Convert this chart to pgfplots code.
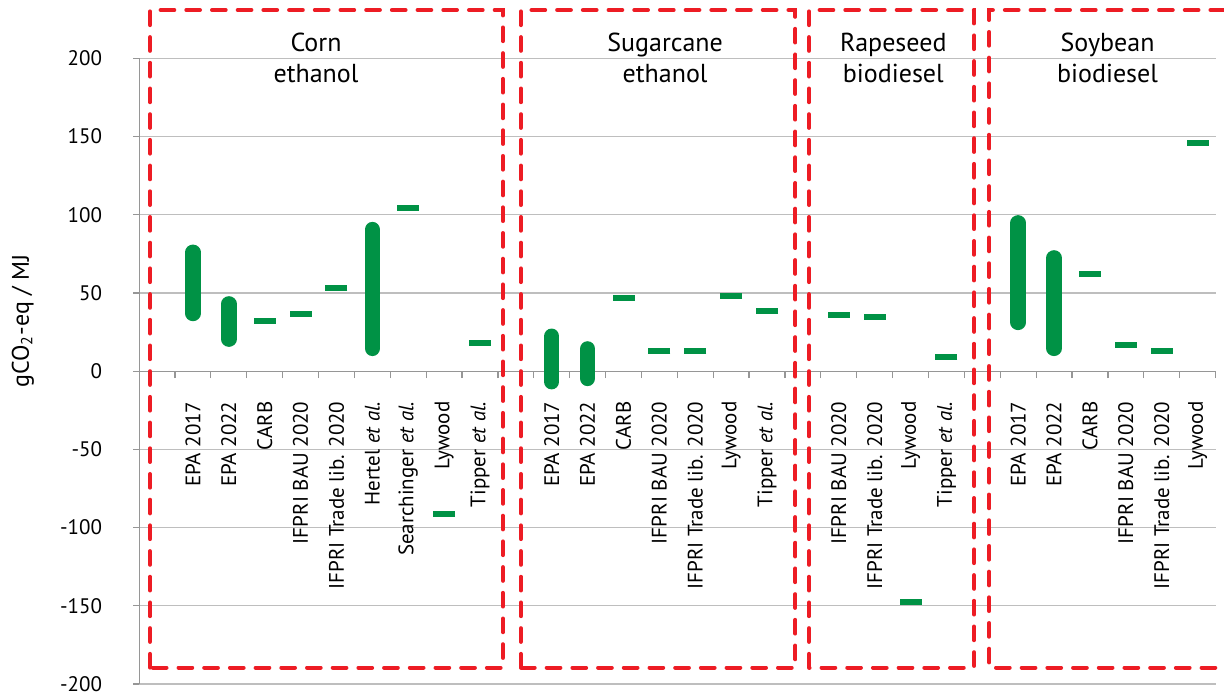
\documentclass[border=0pt]{standalone}
\usepackage{pgfplots}
\pgfplotsset{compat=1.18}
\usepackage{fontspec}
\setmainfont{PT Sans}

\definecolor{bargreen}{RGB}{0,146,69}
\definecolor{boxred}{RGB}{237,28,36}
\definecolor{gridgray}{RGB}{190,190,190}
\definecolor{axisgray}{RGB}{150,150,150}

\tikzset{feedbox/.style={draw=boxred, line width=2pt, line cap=round,
    dash pattern=on 6.85pt off 6pt}}

\begin{document}
\begin{tikzpicture}
\begin{axis}[
  scale only axis, width=538.25pt, height=312.85pt,
  xmin=-0.5, xmax=29.5, ymin=-200, ymax=200,
  axis x line*=middle, axis y line*=left,
  hide obscured x ticks=false, hide obscured y ticks=false,
  axis line style={draw=axisgray, line width=0.6pt},
  ytick={-200,-150,...,200},
  ymajorgrids, grid style={draw=gridgray, line width=0.6pt},
  tick align=outside,
  major tick length=3pt,
  ytick style={draw=axisgray, line width=0.6pt},
  yticklabel style={font=\fontsize{10.5}{12}\selectfont, xshift=-12pt},
  /pgf/number format/assume math mode=true,
  xtick={1,...,9,11,12,...,17,19,20,21,22,24,25,...,29},
  xticklabels={EPA 2017, EPA 2022, CARB, IFPRI BAU 2020, IFPRI Trade lib. 2020,
    {Hertel \textit{et al.}}, {Searchinger \textit{et al.}}, Lywood, {Tipper \textit{et al.}},
    EPA 2017, EPA 2022, CARB, IFPRI BAU 2020, IFPRI Trade lib. 2020, Lywood, {Tipper \textit{et al.}},
    IFPRI BAU 2020, IFPRI Trade lib. 2020, Lywood, {Tipper \textit{et al.}},
    EPA 2017, EPA 2022, CARB, IFPRI BAU 2020, IFPRI Trade lib. 2020, Lywood},
  major x tick style={draw=none},
  minor xtick={0.5,1.5,...,29.5},
  minor x tick style={draw=axisgray, line width=0.6pt},
  minor tick length=3.5pt,
  xticklabel style={rotate=90, anchor=east, inner sep=0pt, font=\fontsize{10.5}{12}\selectfont},
  xticklabel shift=12pt,
  clip=false,
  ylabel={gCO\textsubscript{2}-eq / MJ},
  ylabel style={at={(axis description cs:-0.108,0.58)}, anchor=center,
    font=\fontsize{12}{14}\selectfont},
]
% ranges
\addplot[bargreen, line width=7.75pt, line cap=round, unbounded coords=jump] coordinates {
  (1,36.9) (1,76.0) (1,nan)
  (2,20.5) (2,43.0) (2,nan)
  (6,14.6) (6,90.5) (6,nan)
  (11,-6.7) (11,22.3) (11,nan)
  (12,-4.6) (12,14.2) (12,nan)
  (24,31.2) (24,94.8) (24,nan)
  (25,14.6) (25,72.4)
};
% single values
\addplot[only marks, mark=-, mark size=5.5pt,
  mark options={draw=bargreen, line width=3pt}] coordinates {
  (3,32.1) (4,36.3) (5,52.9) (7,104.1) (8,-91.3) (9,18.0)
  (13,46.5) (14,12.6) (15,13.1) (16,48.1) (17,38.2)
  (19,35.8) (20,34.7) (21,-147.6) (22,9.0)
  (26,61.9) (27,16.8) (28,13.1) (29,146.0)
};

\draw[feedbox] (axis cs:-0.196,-189.5) rectangle (axis cs:9.64,230.9);
\draw[feedbox] (axis cs:10.14,-189.5) rectangle (axis cs:17.79,230.9);
\draw[feedbox] (axis cs:18.17,-189.5) rectangle (axis cs:22.77,230.9);
\draw[feedbox] (axis cs:29.74,230.9) -- (axis cs:23.19,230.9)
  -- (axis cs:23.19,-189.5) -- (axis cs:29.74,-189.5);

\tikzset{every node/.style={align=center, font=\fontsize{13}{15.5}\selectfont}}
\node at (axis cs:4.43,200) {Corn\\ethanol};
\node at (axis cs:14.16,200) {Sugarcane\\ethanol};
\node at (axis cs:20.52,200) {Rapeseed\\biodiesel};
\node at (axis cs:26.49,200) {Soybean\\biodiesel};

\coordinate (bbll) at (axis cs:-4.377,-208.5);
\coordinate (bbur) at (axis cs:29.736,237.3);
\end{axis}
\pgfresetboundingbox
\useasboundingbox (bbll) rectangle (bbur);
\end{tikzpicture}
\end{document}
